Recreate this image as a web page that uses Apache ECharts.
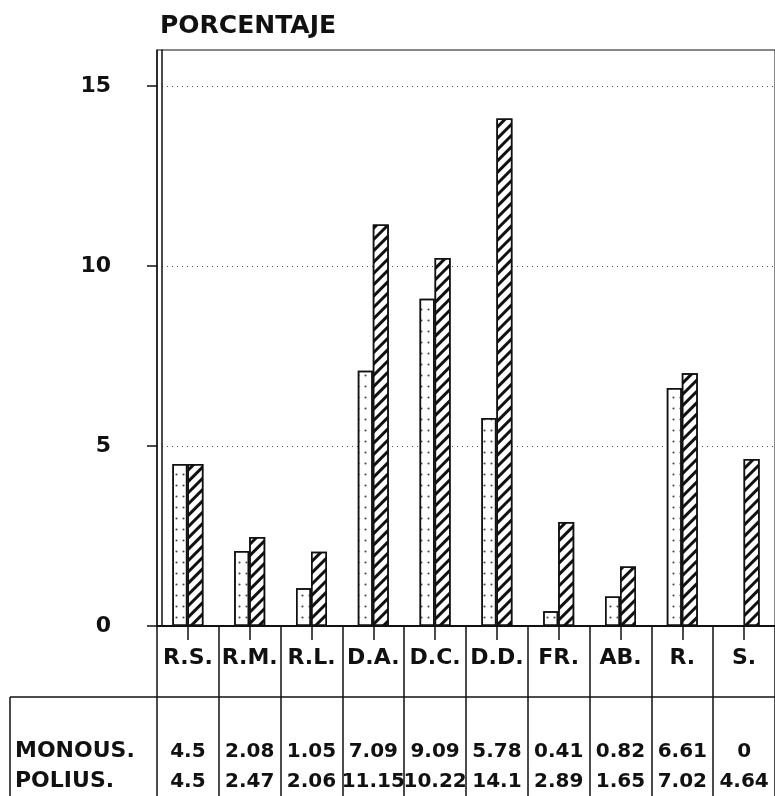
<!DOCTYPE html>
<html>
<head>
<meta charset="utf-8">
<script src="https://cdn.jsdelivr.net/npm/echarts@6/dist/echarts.min.js"></script>
<style>
  html, body { margin: 0; padding: 0; background: #fff; }
  #chart { width: 775px; height: 796px; }
</style>
</head>
<body>
<div id="chart"></div>
<script>
// categorías del eje x
const categorias = ['R.S.', 'R.M.', 'R.L.', 'D.A.', 'D.C.', 'D.D.', 'FR.', 'AB.', 'R.', 'S.']
// porcentajes por grupo
const monous = [4.5, 2.08, 1.05, 7.09, 9.09, 5.78, 0.41, 0.82, 6.61, 0]
const polius = [4.5, 2.47, 2.06, 11.15, 10.22, 14.1, 2.89, 1.65, 7.02, 4.64]
const filas = ['MONOUS.', 'POLIUS.']
const yTicks = [0, 5, 10, 15]

const FONT = 'DejaVu Sans'
const INK = '#111'

const chart = echarts.init(document.getElementById('chart'))

const txt = (size, extra) => Object.assign({
  fontFamily: FONT, fontSize: size, fontWeight: 'bold', color: INK
}, extra || {})

// eje auxiliar para las filas de la tabla
const filaEje = (valores, margen) => ({
  type: 'category',
  position: 'bottom',
  data: valores.map(v => String(v)),
  axisLine: { show: false },
  axisTick: { show: false },
  axisLabel: Object.assign(txt(20), { interval: 0, margin: margen })
})

const option = {
  backgroundColor: '#fff',
  animation: false,
  title: {
    text: 'PORCENTAJE',
    left: 155,
    top: 9,
    textStyle: txt(25)
  },
  grid: {
    left: 157,
    right: -2,
    top: 50,
    bottom: 170,
    show: true,
    borderColor: INK,
    borderWidth: 1
  },
  xAxis: [
    {
      type: 'category',
      data: categorias,
      axisLine: { lineStyle: { color: INK, width: 2 } },
      axisTick: { show: true, interval: 0, length: 170, lineStyle: { color: INK, width: 1.5 } },
      axisLabel: Object.assign(txt(22), { interval: 0, margin: 21 })
    },
    {
      // marcas cortas bajo cada par de barras
      type: 'category',
      position: 'bottom',
      data: categorias,
      axisLine: { show: false },
      axisTick: { show: true, alignWithLabel: true, interval: 0, length: 14, lineStyle: { color: INK, width: 1.5 } },
      axisLabel: { show: false }
    },
    filaEje(monous, 116),
    filaEje(polius, 146)
  ],
  yAxis: [
    {
      type: 'value',
      min: 0,
      max: 16,
      interval: 5,
      axisLine: { show: true, lineStyle: { color: INK, width: 1.5 } },
      axisTick: { show: true, length: 10, customValues: yTicks, lineStyle: { color: INK, width: 1.5 } },
      axisLabel: Object.assign(txt(22), { margin: 46, customValues: yTicks }),
      splitLine: { lineStyle: { color: '#555', type: [1, 4], width: 1 } }
    },
    {
      // segunda línea de la pared izquierda
      type: 'value',
      min: 0,
      max: 16,
      position: 'left',
      offset: -5,
      axisLine: { show: true, lineStyle: { color: INK, width: 1.5 } },
      axisTick: { show: false },
      axisLabel: { show: false },
      splitLine: { show: false }
    }
  ],
  series: [
    {
      name: filas[0],
      type: 'bar',
      data: monous,
      barWidth: 15,
      barGap: '0%',
      itemStyle: {
        color: '#fff',
        borderColor: INK,
        borderWidth: 1.5,
        decal: {
          symbol: 'circle',
          symbolSize: 0.7,
          color: '#444',
          dashArrayX: [[3, 4]],
          dashArrayY: [3, 8]
        }
      }
    },
    {
      name: filas[1],
      type: 'bar',
      data: polius,
      barWidth: 16,
      barGap: '0%',
      itemStyle: {
        color: '#fff',
        borderColor: INK,
        borderWidth: 1.5,
        decal: {
          symbol: 'rect',
          symbolSize: 1,
          color: INK,
          dashArrayX: [1, 0],
          dashArrayY: [3, 4.5],
          rotation: -Math.PI / 4
        }
      }
    }
  ],
  graphic: [
    { type: 'line', shape: { x1: 10, y1: 697, x2: 775, y2: 697 }, style: { stroke: INK, lineWidth: 1.5 } },
    { type: 'line', shape: { x1: 10, y1: 697, x2: 10, y2: 796 }, style: { stroke: INK, lineWidth: 1.5 } },
    { type: 'text', left: 15, top: 740, style: Object.assign(txt(22), { text: filas[0], fill: INK }) },
    { type: 'text', left: 15, top: 770, style: Object.assign(txt(22), { text: filas[1], fill: INK }) }
  ]
}

chart.setOption(option)
</script>
</body>
</html>
